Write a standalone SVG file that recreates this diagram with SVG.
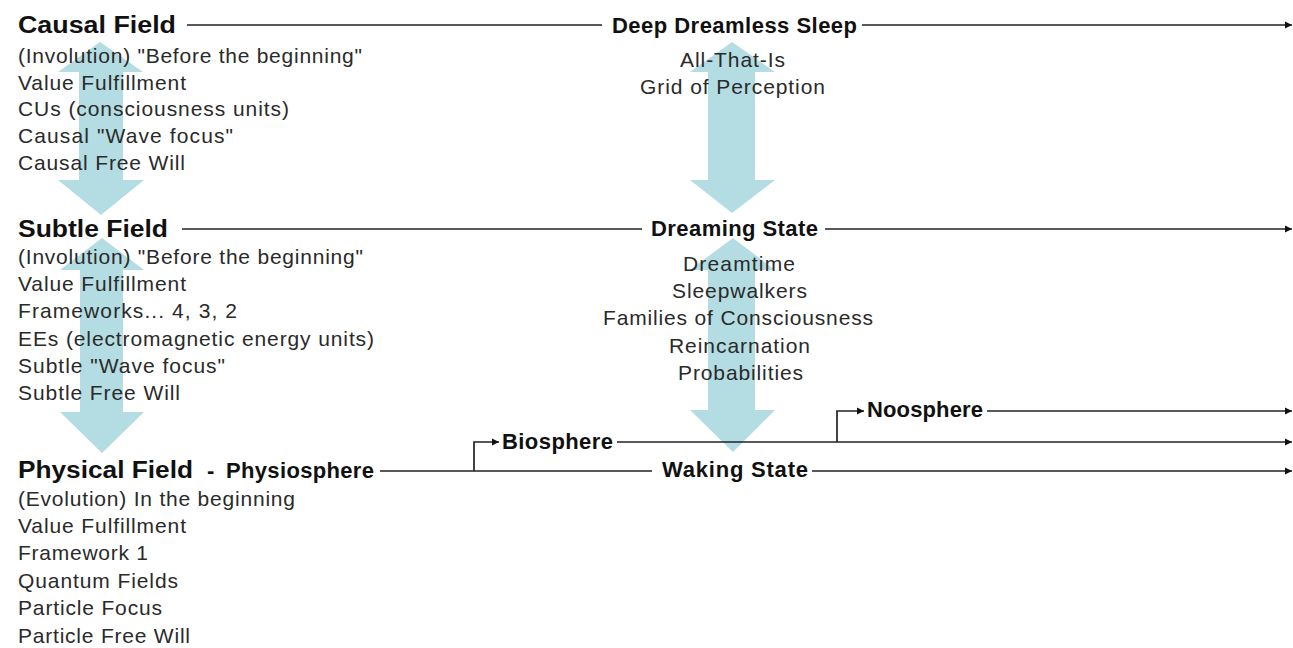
<svg xmlns="http://www.w3.org/2000/svg" width="1293" height="648" viewBox="0 0 1293 648">
<style>
.body{font-family:"Liberation Sans",Arial,sans-serif;font-size:21px;fill:#2a2a2a}
.title{font-family:"Liberation Sans",Arial,sans-serif;font-size:22px;font-weight:bold;fill:#111}
.ln{fill:none;stroke:#222;stroke-width:1.7}
.big{fill:#b3dde2}
</style>
<defs>
<marker id="ah" markerUnits="userSpaceOnUse" markerWidth="8" markerHeight="8" refX="7" refY="4" orient="auto">
<path d="M0,0.5 L7,4 L0,7.5 Z" fill="#111"/>
</marker>
</defs>
<rect width="1293" height="648" fill="#fff"/>

<g id="flow-arrows">
<path class="big" d="M100,42 L143,72 L123,72 L123,180 L144,180 L101,215 L58,180 L79,180 L79,72 L58,72 Z"/>
<path class="big" d="M102,238 L144,270 L123,270 L123,412 L144,412 L102,453 L60,412 L80,412 L80,270 L60,270 Z"/>
<path class="big" d="M732,42 L775,72 L755,72 L755,180 L775,180 L732,213 L690,180 L708,180 L708,72 L690,72 Z"/>
<path class="big" d="M733,238 L775,270 L755,270 L755,410 L775,410 L733,452 L690,410 L708,410 L708,270 L690,270 Z"/>
</g>

<g id="connectors">
<path class="ln" d="M187,25 H602"/>
<path class="ln" d="M862,25 H1292" marker-end="url(#ah)"/>
<path class="ln" d="M182,229 H642"/>
<path class="ln" d="M825,229 H1292" marker-end="url(#ah)"/>
<path class="ln" d="M380,471 H652"/>
<path class="ln" d="M812,471 H1292" marker-end="url(#ah)"/>
<path class="ln" d="M474,471 V442 H499" marker-end="url(#ah)"/>
<path class="ln" d="M617,442 H1292" marker-end="url(#ah)"/>
<path class="ln" d="M837,442 V411 H864" marker-end="url(#ah)"/>
<path class="ln" d="M987,411 H1292" marker-end="url(#ah)"/>
</g>

<g id="causal-field">
<text class="title" x="18" y="33" style="font-size:23px" textLength="158" lengthAdjust="spacingAndGlyphs">Causal Field</text>
<text class="body" x="18" y="63" textLength="344">(Involution) "Before the beginning"</text>
<text class="body" x="18" y="90" textLength="168">Value Fulfillment</text>
<text class="body" x="18" y="116" textLength="271">CUs (consciousness units)</text>
<text class="body" x="18" y="143" textLength="215">Causal "Wave focus"</text>
<text class="body" x="18" y="170" textLength="167">Causal Free Will</text>
</g>

<g id="subtle-field">
<text class="title" x="18" y="237" style="font-size:23px" textLength="150" lengthAdjust="spacingAndGlyphs">Subtle Field</text>
<text class="body" x="18" y="264" textLength="345">(Involution) "Before the beginning"</text>
<text class="body" x="18" y="291" textLength="168">Value Fulfillment</text>
<text class="body" x="18" y="318" textLength="219">Frameworks...  4, 3, 2</text>
<text class="body" x="18" y="346" textLength="356">EEs (electromagnetic energy units)</text>
<text class="body" x="18" y="373" textLength="207">Subtle "Wave focus"</text>
<text class="body" x="18" y="400" textLength="162">Subtle Free Will</text>
</g>

<g id="physical-field">
<text class="title" x="18" y="478" style="font-size:23px" textLength="175" lengthAdjust="spacingAndGlyphs">Physical Field</text>
<text class="title" x="207" y="478" textLength="8">-</text>
<text class="title" x="226" y="478" textLength="148">Physiosphere</text>
<text class="body" x="18" y="506" textLength="277">(Evolution) In the beginning</text>
<text class="body" x="18" y="533" textLength="168">Value Fulfillment</text>
<text class="body" x="18" y="560" textLength="130">Framework 1</text>
<text class="body" x="18" y="588" textLength="160">Quantum Fields</text>
<text class="body" x="18" y="615" textLength="144">Particle Focus</text>
<text class="body" x="18" y="643" textLength="172">Particle Free Will</text>
</g>

<g id="deep-dreamless-sleep">
<text class="title" x="612" y="33" textLength="245">Deep Dreamless Sleep</text>
<text class="body" x="680" y="67" textLength="105">All-That-Is</text>
<text class="body" x="640" y="94" textLength="185">Grid of Perception</text>
</g>

<g id="dreaming-state">
<text class="title" x="651" y="236" textLength="167">Dreaming State</text>
<text class="body" x="683" y="271" textLength="112">Dreamtime</text>
<text class="body" x="672" y="298" textLength="135">Sleepwalkers</text>
<text class="body" x="603" y="325" textLength="270">Families of Consciousness</text>
<text class="body" x="669" y="353" textLength="141">Reincarnation</text>
<text class="body" x="678" y="380" textLength="125">Probabilities</text>
</g>

<g id="waking-state">
<text class="title" x="662" y="477" textLength="146">Waking State</text>
</g>

<g id="biosphere">
<text class="title" x="502" y="449" textLength="111">Biosphere</text>
</g>

<g id="noosphere">
<text class="title" x="867" y="417" textLength="116">Noosphere</text>
</g>
</svg>
